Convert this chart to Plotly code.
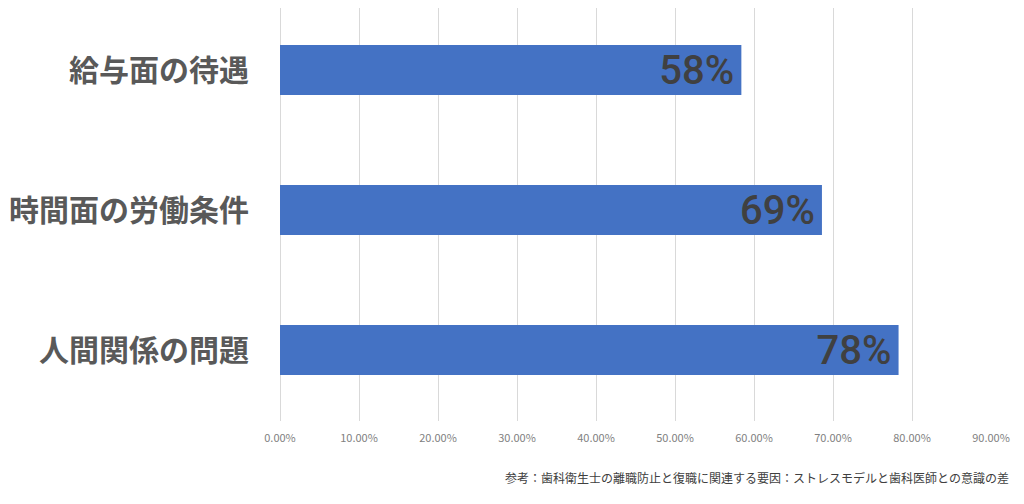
import plotly.graph_objects as go

categories = ["給与面の待遇", "時間面の労働条件", "人間関係の問題"]
values = [0.584, 0.686, 0.783]
value_labels = ["58%\u200a", "69%\u200a", "78%\u200a"]
tick_vals = [0, 0.1, 0.2, 0.3, 0.4, 0.5, 0.6, 0.7, 0.8, 0.9]
source_text = "参考：歯科衛生士の離職防止と復職に関連する要因：ストレスモデルと歯科医師との意識の差"

fig = go.Figure(go.Bar(
    y=categories,
    x=values,
    orientation="h",
    marker=dict(color="#4472C4", line=dict(width=0)),
    width=0.357,
    text=value_labels,
    textposition="inside",
    insidetextanchor="end",
    constraintext="none",
    textangle=0,
    textfont=dict(family="Roboto, Liberation Sans, sans-serif", size=40, color="#404040", weight=500),
    hoverinfo="skip",
))

fig.update_layout(
    width=1016,
    height=496,
    margin=dict(l=272, r=33, t=0, b=83),
    paper_bgcolor="white",
    plot_bgcolor="white",
    showlegend=False,
    xaxis=dict(
        range=[0, 0.9],
        tickvals=tick_vals,
        tickformat=".2%",
        showgrid=True,
        gridcolor="#D9D9D9",
        gridwidth=1,
        zeroline=True,
        zerolinecolor="#D9D9D9",
        zerolinewidth=1,
        showline=False,
        ticks="",
        tickfont=dict(family="Noto Sans CJK JP, sans-serif", size=11, color="#7F7F7F"),
        ticklabelstandoff=9,
        fixedrange=True,
    ),
    yaxis=dict(
        categoryorder="array",
        categoryarray=categories[::-1],
        range=[-0.507, 2.443],
        showgrid=False,
        zeroline=False,
        showline=False,
        ticks="",
        ticklabelstandoff=30,
        tickfont=dict(family="Noto Sans CJK JP, sans-serif", size=30, color="#595959", weight="bold"),
        fixedrange=True,
    ),
    annotations=[dict(
        text=source_text,
        xref="paper", yref="paper",
        x=1.028, y=-0.1356,
        xanchor="right", yanchor="middle",
        showarrow=False,
        font=dict(family="Noto Sans CJK JP, sans-serif", size=12, color="#404040"),
    )],
)

fig.write_html("out.html")
